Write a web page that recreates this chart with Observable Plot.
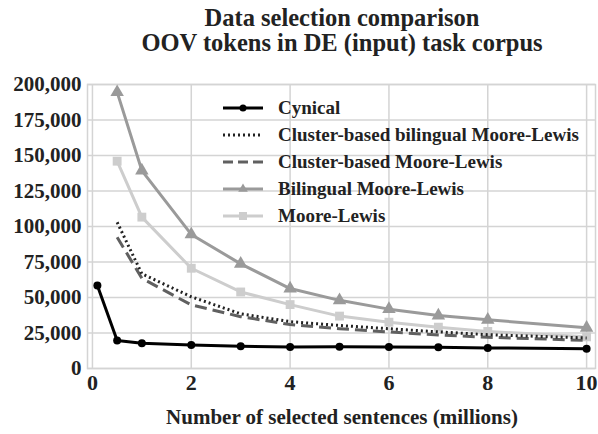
<!DOCTYPE html>
<html>
<head>
<meta charset="utf-8">
<script src="https://cdn.jsdelivr.net/npm/d3@7"></script>
<script src="https://cdn.jsdelivr.net/npm/@observablehq/plot@0.6"></script>
<style>
  html, body { margin: 0; padding: 0; background: #fff; }
  #wrap { position: relative; width: 598px; height: 434px; font-family: 'Liberation Serif'; font-weight: bold; color: #222; }
  #title { position: absolute; left: 86px; width: 512px; top: 5px; text-align: center; font-size: 24.5px; line-height: 25px; font-family: 'Liberation Serif'; }
  #chart { position: absolute; left: 0; top: 64px; }
  #legend { position: absolute; left: 222px; top: 94px; font-size: 19px; font-family: 'Liberation Serif'; }
  #legend .row { height: 27px; display: flex; align-items: center; }
  #legend svg { margin-right: 14px; }
  #xlabel { position:absolute; left:88px; width:508px; top:405px; text-align:center; font-size:21px; font-family: 'Liberation Serif'; }
</style>
</head>
<body>
<div id="wrap">
  <div id="title">Data selection comparison<br>OOV tokens in DE (input) task corpus</div>
  <div id="chart"></div>
  <div id="legend"></div>
  <div id="xlabel">Number of selected sentences (millions)</div>
</div>
<script>
const xCynical = [0.1, 0.5, 1, 2, 3, 4, 5, 6, 7, 8, 10];
const xOthers = [0.5, 1, 2, 3, 4, 5, 6, 7, 8, 10];

const cynical = [58500, 19700, 17800, 16500, 15600, 15100, 15300, 15200, 14900, 14500, 13900];
const clusterBilingualML = [103000, 66700, 50500, 38500, 33000, 30300, 28000, 25800, 23800, 21500];
const clusterML = [92500, 63500, 44800, 36500, 31000, 28000, 25700, 23600, 22000, 19800];
const bilingualML = [194600, 139400, 94400, 73700, 56300, 48000, 41800, 37300, 34300, 28700];
const mooreLewis = [146000, 106600, 70600, 53900, 45000, 36900, 32600, 29100, 26100, 22300];

const seriesNames = ["Cynical", "Cluster-based bilingual Moore-Lewis", "Cluster-based Moore-Lewis", "Bilingual Moore-Lewis", "Moore-Lewis"];
const xTicks = [0, 2, 4, 6, 8, 10];
const yTicks = [0, 25000, 50000, 75000, 100000, 125000, 150000, 175000, 200000];

const styles = {
  "Cynical": {stroke: "#000", dash: null, width: 3, symbol: "circle", fill: "#000"},
  "Cluster-based bilingual Moore-Lewis": {stroke: "#222", dash: "2,3", width: 3, symbol: null},
  "Cluster-based Moore-Lewis": {stroke: "#606060", dash: "12,6", width: 3, symbol: null},
  "Bilingual Moore-Lewis": {stroke: "#9a9a9a", dash: null, width: 3, symbol: "triangle", fill: "#9a9a9a"},
  "Moore-Lewis": {stroke: "#cdcdcd", dash: null, width: 3, symbol: "square", fill: "#cdcdcd"}
};

const rows = (name, xs, ys) => xs.map((x, i) => ({series: name, x, y: ys[i]}));
const data = {
  "Cynical": rows("Cynical", xCynical, cynical),
  "Cluster-based bilingual Moore-Lewis": rows("Cluster-based bilingual Moore-Lewis", xOthers, clusterBilingualML),
  "Cluster-based Moore-Lewis": rows("Cluster-based Moore-Lewis", xOthers, clusterML),
  "Bilingual Moore-Lewis": rows("Bilingual Moore-Lewis", xOthers, bilingualML),
  "Moore-Lewis": rows("Moore-Lewis", xOthers, mooreLewis)
};

const drawOrder = ["Moore-Lewis", "Bilingual Moore-Lewis", "Cluster-based Moore-Lewis", "Cluster-based bilingual Moore-Lewis", "Cynical"];
const marks = [
  Plot.gridX(xTicks, {stroke: "#d4d4d4", strokeOpacity: 1, strokeWidth: 1.5}),
  Plot.gridY(yTicks, {stroke: "#d4d4d4", strokeOpacity: 1, strokeWidth: 1.5}),
  Plot.frame({stroke: "#d4d4d4", strokeWidth: 1.5})
];
for (const name of drawOrder) {
  const s = styles[name];
  marks.push(Plot.line(data[name], {x: "x", y: "y", stroke: s.stroke, strokeWidth: s.width, strokeDasharray: s.dash, strokeLinecap: "butt"}));
  if (s.symbol) {
    marks.push(Plot.dot(data[name], {x: "x", y: "y", symbol: s.symbol, fill: s.fill, r: s.symbol === "circle" ? 4 : 5}));
  }
}
marks.push(Plot.axisX(xTicks, {tickSize: 0, tickPadding: 6, fontSize: 22, fontWeight: "bold", fill: "#222", label: null, fontFamily: "Liberation Serif"}));
marks.push(Plot.axisY(yTicks, {tickSize: 0, tickPadding: 6, fontSize: 21, fontWeight: "bold", fill: "#222", label: null, fontFamily: "Liberation Serif", tickFormat: d3.format(",")}));

const chart = Plot.plot({
  width: 598,
  height: 370,
  marginTop: 20,
  marginBottom: 66,
  marginLeft: 87,
  marginRight: 3,
  style: {fontFamily: "'Liberation Serif'", background: "#fff", overflow: "visible"},
  x: {domain: [-0.1, 10.18], label: null},
  y: {domain: [0, 200000], label: null},
  marks
});
document.getElementById("chart").appendChild(chart);

const legend = d3.select("#legend");
for (const name of seriesNames) {
  const s = styles[name];
  const row = legend.append("div").attr("class", "row");
  const sv = row.append("svg").attr("width", 42).attr("height", 14);
  sv.append("line").attr("x1", 1).attr("x2", 41).attr("y1", 7).attr("y2", 7)
    .attr("stroke", s.stroke).attr("stroke-width", s.width)
    .attr("stroke-dasharray", s.dash === "12,6" ? "10,5" : s.dash);
  if (s.symbol === "circle") sv.append("circle").attr("cx", 21).attr("cy", 7).attr("r", 3.5).attr("fill", s.fill);
  if (s.symbol === "triangle") sv.append("path").attr("d", d3.symbol(d3.symbolTriangle, 40)()).attr("transform", "translate(21,7)").attr("fill", s.fill);
  if (s.symbol === "square") sv.append("rect").attr("x", 17).attr("y", 3).attr("width", 8).attr("height", 8).attr("fill", s.fill);
  row.append("span").text(name);
}
</script>
</body>
</html>
